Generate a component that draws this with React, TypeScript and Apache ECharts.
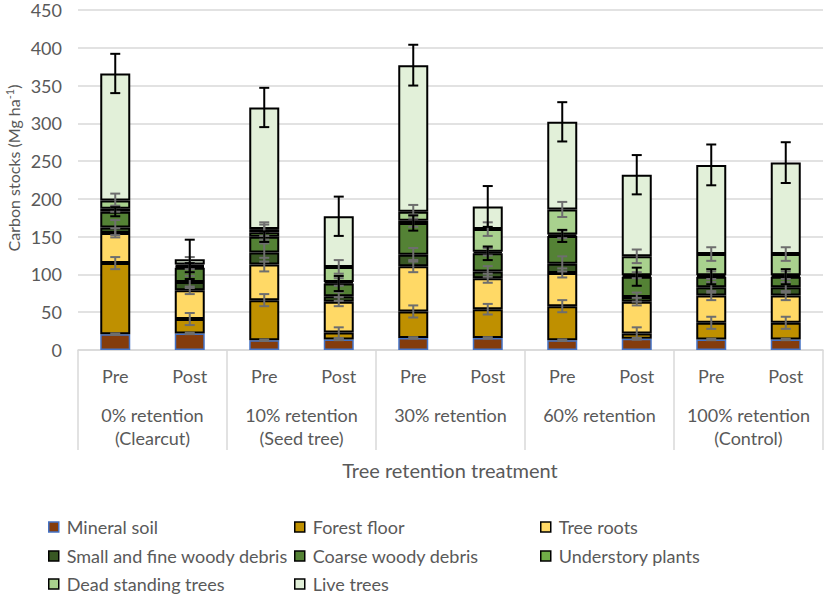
import React, { useEffect, useRef } from "react";
import * as echarts from "echarts";

const categories = ["Pre", "Post", "Pre", "Post", "Pre", "Post", "Pre", "Post", "Pre", "Post"];
const groups = ["0% retention\n(Clearcut)", "10% retention\n(Seed tree)", "30% retention", "60% retention", "100% retention\n(Control)"];
const yTicks = { min: 0, max: 450, interval: 50 };

const seriesNames = [
  "Mineral soil",
  "Forest floor",
  "Tree roots",
  "Small and fine woody debris",
  "Coarse woody debris",
  "Understory plants",
  "Dead standing trees",
  "Live trees",
];

const mineralSoil = [21, 22, 13, 14, 16, 16, 13, 15, 14, 14];
const forestFloor = [94, 19, 53, 9, 35, 38, 45, 7, 22, 22];
const treeRoots = [40, 38, 47, 41, 60, 41, 44, 42, 36, 36];
const smallFineWoody = [7, 11, 16, 7, 15, 9, 12, 6, 11, 11];
const coarseWoody = [21, 19, 21, 17, 42, 24, 37, 27, 14, 14];
const understory = [4, 2, 6, 2, 3, 2, 2, 2, 2, 2];
const deadStanding = [11, 2, 4, 20, 12, 30, 33, 25, 28, 28];
const liveTrees = [168, 7, 161, 67, 194, 30, 116, 108, 118, 121];

const mineralSoilErr = [1, 1, 1, 1, 1, 1, 1, 1, 1, 1];
const forestFloorErr = [8, 8, 8, 7, 8, 7, 8, 8, 8, 8];
const treeRootsErr = [6, 5, 9, 6, 8, 6, 6, 5, 6, 6];
const smallFineErr = [10, 8, 12, 6, 9, 7, 10, 6, 7, 7];
const coarseErr = [6, 6, 7, 10, 10, 9, 8, 12, 10, 10];
const understoryErr = [4, 4, 10, 5, 8, 5, 5, 4, 5, 5];
const deadErr = [9, 10, 9, 9, 9, 9, 10, 9, 9, 9];
const liveErr = [26, 26, 26, 26, 27, 27, 26, 26, 27, 27];

const values = [mineralSoil, forestFloor, treeRoots, smallFineWoody, coarseWoody, understory, deadStanding, liveTrees];
const errors = [mineralSoilErr, forestFloorErr, treeRootsErr, smallFineErr, coarseErr, understoryErr, deadErr, liveErr];
const blackErr = [false, false, false, false, true, false, false, true];

const fills = ["#843C0C", "#BF9000", "#FFD966", "#385723", "#548235", "#70AD47", "#A9D18E", "#E2F0D9"];
const borders = ["#4472C4", "#000", "#000", "#000", "#000", "#000", "#000", "#000"];

const FONT = "Lato";
const TXT = "#595959";

export default function App() {
  const ref = useRef<HTMLDivElement>(null);
  useEffect(() => {
    if (!ref.current) return;
    const chart = echarts.init(ref.current, undefined, { renderer: "svg" });

    const cum: number[][] = [];
    values.forEach((arr, s) => {
      cum.push(arr.map((v, i) => (s > 0 ? cum[s - 1][i] : 0) + v));
    });
    const grayData: number[][] = [];
    const blackData: number[][] = [];
    values.forEach((arr, s) => {
      arr.forEach((_, i) => {
        const d = [i, cum[s][i], errors[s][i]];
        (blackErr[s] ? blackData : grayData).push(d);
      });
    });

    const mkErr = (data: number[][], color: string) => ({
      type: "custom",
      data,
      z: 10,
      silent: true,
      encode: { x: 0, y: 1 },
      renderItem: (params: any, api: any) => {
        const x = api.value(0);
        const y = api.value(1);
        const e = api.value(2);
        const hi = api.coord([x, y + e]);
        const lo = api.coord([x, y - e]);
        const w = 5;
        const st = { stroke: color, lineWidth: 2 };
        return {
          type: "group",
          children: [
            { type: "line", shape: { x1: hi[0], y1: hi[1], x2: lo[0], y2: lo[1] }, style: st },
            { type: "line", shape: { x1: hi[0] - w, y1: hi[1], x2: hi[0] + w, y2: hi[1] }, style: st },
            { type: "line", shape: { x1: lo[0] - w, y1: lo[1], x2: lo[0] + w, y2: lo[1] }, style: st },
          ],
        };
      },
    });

    const legendPos = [
      [48, 518], [294, 518], [540, 518],
      [48, 547], [294, 547], [540, 547],
      [48, 575], [294, 575],
    ];

    const option: any = {
      animation: false,
      grid: { left: 78, right: 6, top: 10, bottom: 262 },
      legend: seriesNames.map((n, k) => ({
        data: [n],
        left: legendPos[k][0],
        top: legendPos[k][1],
        padding: 0,
        icon: "rect",
        itemWidth: 10,
        itemHeight: 10,
        selectedMode: false,
        textStyle: { fontSize: 18, color: TXT, fontFamily: FONT, padding: [0, 0, 0, 3] },
        itemStyle: { borderWidth: 1.5, borderColor: borders[k] },
      })),
      xAxis: [
        {
          type: "category",
          data: categories,
          axisLine: { show: true, lineStyle: { color: "#d9d9d9", width: 1.5 } },
          axisTick: { show: false },
          axisLabel: { interval: 0, fontSize: 18, color: TXT, fontFamily: FONT, margin: 17 },
        },
        {
          type: "category",
          data: groups,
          position: "bottom",
          axisLine: { show: false },
          axisTick: { show: true, length: 100, interval: 0, lineStyle: { color: "#d9d9d9", width: 1.5 } },
          axisLabel: { interval: 0, fontSize: 18, color: TXT, fontFamily: FONT, margin: 53, lineHeight: 23 },
        },
      ],
      yAxis: {
        type: "value",
        min: yTicks.min,
        max: yTicks.max,
        interval: yTicks.interval,
        axisLine: { show: false },
        axisTick: { show: false },
        axisLabel: { fontSize: 18, color: TXT, fontFamily: FONT, margin: 16 },
        splitLine: { lineStyle: { color: "#d9d9d9", width: 1.5 } },
      },
      series: [
        ...seriesNames.map((n, k) => ({
          name: n,
          type: "bar",
          stack: "total",
          barWidth: 30,
          data: values[k],
          itemStyle: { color: fills[k], borderColor: borders[k], borderWidth: k === 0 ? 1.5 : 2 },
        })),
        mkErr(grayData, "#6e6e6e"),
        mkErr(blackData, "#000000"),
      ],
      graphic: [
        {
          type: "text",
          x: 450,
          y: 470,
          style: {
            text: "Tree retention treatment",
            fontSize: 20,
            fontFamily: FONT,
            fill: TXT,
            textAlign: "center",
            textVerticalAlign: "middle",
          },
        },
        {
          type: "text",
          x: 13,
          y: 168,
          rotation: Math.PI / 2,
          style: {
            text: "{a|Carbon stocks (Mg ha}{b|-1}{a|)}",
            rich: {
              a: { fontSize: 16, fontFamily: FONT, fill: TXT, color: TXT },
              b: { fontSize: 11, fontFamily: FONT, fill: TXT, color: TXT, verticalAlign: "top", padding: [0, 0, 8, 0] },
            },
            textAlign: "center",
            textVerticalAlign: "middle",
          },
        },
      ],
    };
    chart.setOption(option);
    return () => chart.dispose();
  }, []);
  return (
    <div
      ref={ref}
      style={{ position: "absolute", left: 0, top: 0, width: 829, height: 612, background: "#fff" }}
    />
  );
}
